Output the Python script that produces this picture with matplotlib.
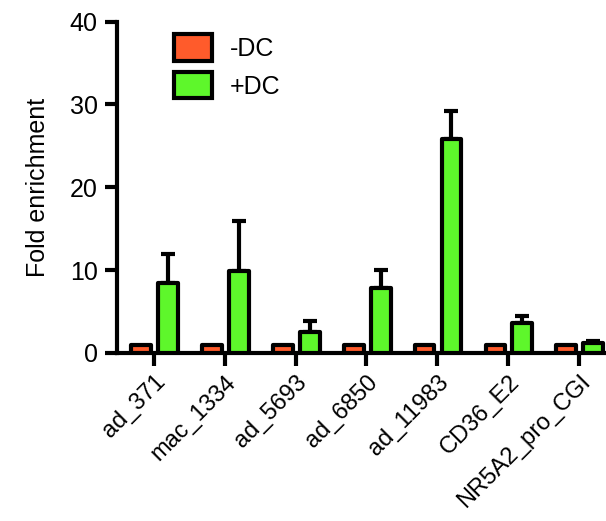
import matplotlib
matplotlib.use('Agg')
import matplotlib.pyplot as plt
import numpy as np

plt.rcParams['font.family'] = ['Liberation Sans', 'DejaVu Sans']

categories = ['ad_371', 'mac_1334', 'ad_5693', 'ad_6850', 'ad_11983', 'CD36_E2', 'NR5A2_pro_CGI']
minus_dc = [1.0, 1.0, 1.0, 1.0, 1.0, 1.0, 1.0]
plus_dc = [8.4, 9.9, 2.5, 7.8, 25.8, 3.6, 1.2]
plus_dc_err = [3.6, 6.0, 1.4, 2.2, 3.4, 0.9, 0.2]

x = np.arange(len(categories))
w = 0.28
lw = 3.0

fig = plt.figure(figsize=(6.06, 5.21), dpi=100)
ax = fig.add_axes([0.193, 0.3225, 0.807, 0.636])

ax.bar(x - 0.18, minus_dc, w, color='#FF5B2B', edgecolor='black', linewidth=lw,
       joinstyle='round', label='-DC', zorder=3)
ax.bar(x + 0.2, plus_dc, w, color='#5EF72B', edgecolor='black', linewidth=lw,
       joinstyle='round', label='+DC', zorder=3)
ax.errorbar(x + 0.2, plus_dc, yerr=[np.zeros(len(x)), plus_dc_err], fmt='none',
            ecolor='black', elinewidth=lw, capsize=5, capthick=lw, zorder=2)

ax.set_xlim(-0.52, 6.38)
ax.set_ylim(0, 40)
ax.set_yticks([0, 10, 20, 30, 40])
ax.set_xticks(x)
ax.set_xticklabels(categories, rotation=45, ha='right', rotation_mode='anchor')
ax.set_ylabel('Fold enrichment', fontsize=18, labelpad=14)

for s in ['top', 'right']:
    ax.spines[s].set_visible(False)
for s in ['left', 'bottom']:
    ax.spines[s].set_linewidth(lw)
ax.tick_params(width=lw, length=9, labelsize=18, pad=5)
ax.tick_params(axis='x', labelsize=17, pad=4)

ax.legend(loc='upper left', bbox_to_anchor=(0.07, 1.03), frameon=False, fontsize=18,
          handlelength=1.55, handleheight=1.25, labelspacing=0.45, handletextpad=0.7)

fig.savefig('out.png', dpi=100)
